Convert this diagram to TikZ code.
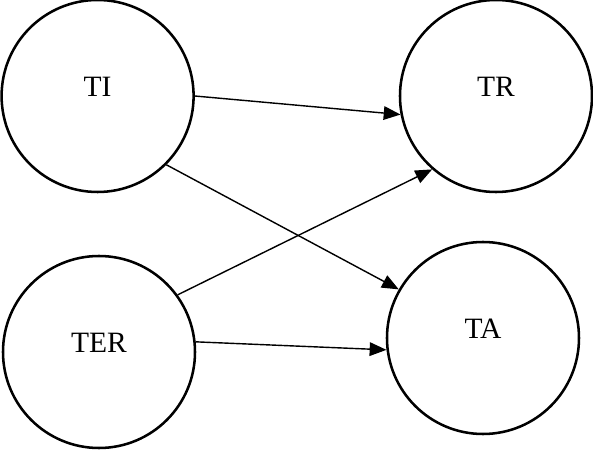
\documentclass[tikz,border=0pt]{standalone}
\usepackage{fontspec}
\setmainfont{Liberation Serif}
\usepackage{tikz}
\usetikzlibrary{arrows.meta, positioning}
\tikzset{
  construct/.style = {
    circle, draw=black, line width=1.8pt,
    minimum size=4.8cm, text depth=0.45cm,
    text centered, font=\fontsize{21}{25}\selectfont
  },
  myarrow/.style = {-{Triangle[length=0.42cm, width=0.34cm]}, line width=1pt}
}
\begin{document}
\begin{tikzpicture}
  \useasboundingbox (0,0) rectangle (14.825,11.25);

  % Constructs
  \node[construct] (TI)  at (2.44, 8.85)   {TI};
  \node[construct] (TR)  at (12.40, 8.85)  {TR};
  \node[construct] (TER) at (2.475, 2.45)  {TER};
  \node[construct] (TA)  at (12.075, 2.80) {TA};

  % Paths
  \draw[myarrow] (TI.0)   -- (TR.191);
  \draw[myarrow] (TI.315) -- (TA.150);
  \draw[myarrow] (TER.36) -- (TR.229);
  \draw[myarrow] (TER.6)  -- (TA.187);
\end{tikzpicture}
\end{document}
